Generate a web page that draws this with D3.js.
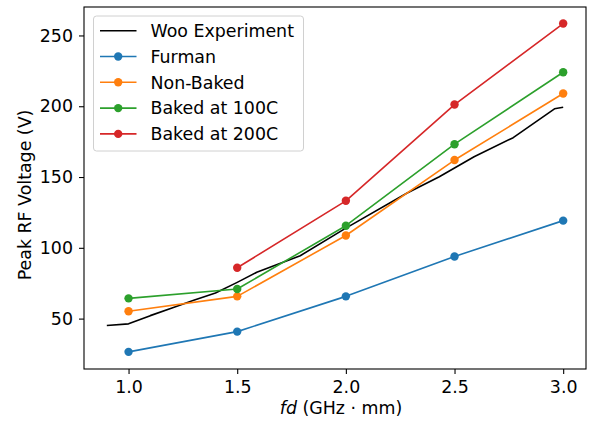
<!DOCTYPE html>
<html>
<head>
<meta charset="utf-8">
<script src="https://cdn.jsdelivr.net/npm/d3@7"></script>
<style>
  html, body { margin: 0; padding: 0; background: #fff; overflow: hidden; }
  svg { display: block; }
  text { font-family: "DejaVu Sans", sans-serif; }
</style>
</head>
<body>
<svg class="chart" width="589" height="426"></svg>
<script>
// values
let fdPoints = [1.0, 1.5, 2.0, 2.5, 3.0];
let furman = [26.5, 40.8, 65.7, 93.9, 119.2];
let nonBaked = [55.2, 65.7, 108.7, 162.0, 209.0];
let baked100 = [64.3, 70.9, 115.6, 173.2, 224.0];
let fd200 = [1.5, 2.0, 2.5, 3.0];
let baked200 = [85.9, 133.2, 201.2, 258.4];

let wooFd = [0.9, 1.0, 1.1, 1.2, 1.3, 1.4, 1.5, 1.59, 1.79, 2.0, 2.28, 2.43, 2.59, 2.77, 2.96, 3.0];
let wooV = [45.1, 46.3, 52.1, 57.5, 62.9, 68.1, 75.6, 82.7, 94.4, 113.9, 138.5, 150.2, 164.3, 177.8, 198.2, 199.3];

let xTicks = [1.0, 1.5, 2.0, 2.5, 3.0];
let yTicks = [50, 100, 150, 200, 250];

let seriesNames = ["Woo Experiment", "Furman", "Non-Baked", "Baked at 100C", "Baked at 200C"];
let seriesColors = ["#000000", "#1f77b4", "#ff7f0e", "#2ca02c", "#d62728"];

let fontSize = 17.4;

var svg = d3.select(".chart");
let margin = {left: 84, right: 3, top: 7, bottom: 57};
let width = +svg.attr("width");
let height = +svg.attr("height");
let innerWidth = width - margin.left - margin.right;
let innerHeight = height - margin.top - margin.bottom;

var xScale = d3.scaleLinear()
               .domain([0.795, 3.105])
               .range([0, innerWidth]);
var yScale = d3.scaleLinear()
               .domain([14.4, 270.1])
               .range([innerHeight, 0]);

let g = svg.append("g")
           .attr("transform", `translate(${margin.left}, ${margin.top})`);

let series = [
  {name: seriesNames[1], color: seriesColors[1], xs: fdPoints, ys: furman},
  {name: seriesNames[2], color: seriesColors[2], xs: fdPoints, ys: nonBaked},
  {name: seriesNames[3], color: seriesColors[3], xs: fdPoints, ys: baked100},
  {name: seriesNames[4], color: seriesColors[4], xs: fd200, ys: baked200}
];

var line = d3.line()
             .x(d => xScale(d[0]))
             .y(d => yScale(d[1]));

// woo experiment (no markers)
g.append("path")
 .datum(d3.zip(wooFd, wooV))
 .attr("fill", "none")
 .attr("stroke", seriesColors[0])
 .attr("stroke-width", 1.6)
 .attr("stroke-linejoin", "round")
 .attr("d", line);

for (let s of series) {
  let pts = d3.zip(s.xs, s.ys);
  g.append("path")
   .datum(pts)
   .attr("fill", "none")
   .attr("stroke", s.color)
   .attr("stroke-width", 1.6)
   .attr("stroke-linejoin", "round")
   .attr("d", line);
  g.selectAll(null)
   .data(pts)
   .enter()
   .append("circle")
   .attr("cx", d => xScale(d[0]))
   .attr("cy", d => yScale(d[1]))
   .attr("r", 4.2)
   .attr("fill", s.color);
}

// axes
let xAxis = g.append("g")
   .attr("transform", `translate(0, ${innerHeight})`)
   .call(d3.axisBottom(xScale).tickValues(xTicks).tickFormat(d3.format(".1f")).tickSize(5).tickPadding(7));
let yAxis = g.append("g")
   .call(d3.axisLeft(yScale).tickValues(yTicks).tickFormat(d3.format("d")).tickSize(5).tickPadding(6));

[xAxis, yAxis].forEach(a => {
  a.select(".domain").remove();
  a.selectAll("line").attr("stroke", "#000").attr("stroke-width", 1.1);
  a.selectAll("text").attr("font-size", fontSize).attr("fill", "#000")
   .attr("font-family", "DejaVu Sans");
});

g.append("rect")
 .attr("width", innerWidth)
 .attr("height", innerHeight)
 .attr("fill", "none")
 .attr("stroke", "#000")
 .attr("stroke-width", 1.1);

// axis labels
let xLabel = svg.append("text")
   .attr("x", 341)
   .attr("y", 414)
   .attr("text-anchor", "middle")
   .attr("font-size", fontSize);
xLabel.append("tspan").attr("font-style", "italic").text("fd");
xLabel.append("tspan").text(" (GHz \u00b7 mm)");

svg.append("text")
   .attr("transform", `translate(31, 195) rotate(-90)`)
   .attr("text-anchor", "middle")
   .attr("font-size", fontSize)
   .text("Peak RF Voltage (V)");

// legend
let legend = svg.append("g").attr("transform", "translate(93.5, 16)");
legend.append("rect")
      .attr("width", 210)
      .attr("height", 135)
      .attr("rx", 3)
      .attr("fill", "#fff")
      .attr("fill-opacity", 0.8)
      .attr("stroke", "#d0d0d0")
      .attr("stroke-width", 1);

for (let i = 0; i < seriesNames.length; i++) {
  let yy = 14.7 + i * 25.8;
  legend.append("line")
        .attr("x1", 6.5).attr("x2", 43)
        .attr("y1", yy).attr("y2", yy)
        .attr("stroke", seriesColors[i])
        .attr("stroke-width", 1.6);
  if (i > 0) {
    legend.append("circle")
          .attr("cx", 24.7).attr("cy", yy)
          .attr("r", 4.2)
          .attr("fill", seriesColors[i]);
  }
  legend.append("text")
        .attr("x", 57)
        .attr("y", yy + 6.3)
        .attr("font-size", fontSize)
        .text(seriesNames[i]);
}
</script>
</body>
</html>
